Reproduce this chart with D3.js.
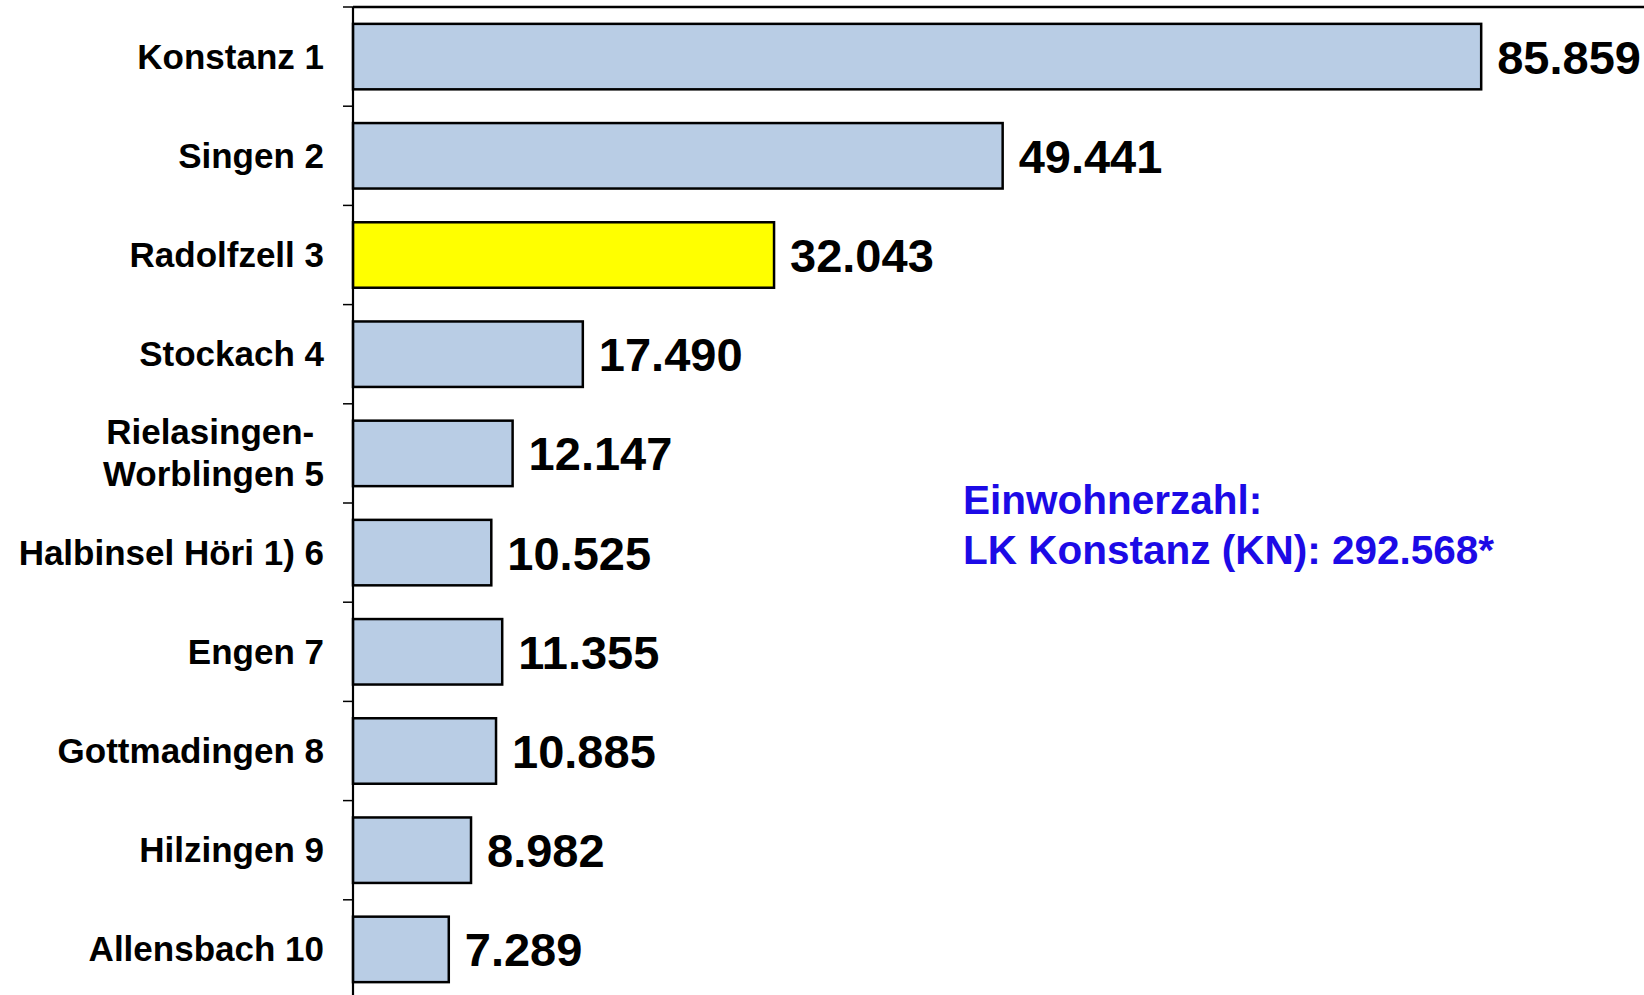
<!DOCTYPE html>
<html>
<head>
<meta charset="utf-8">
<script src="https://cdn.jsdelivr.net/npm/d3@7"></script>
<style>
  html, body { margin: 0; padding: 0; background: #ffffff; }
  svg { display: block; }
  text { font-family: "Liberation Sans", Arial, Helvetica, sans-serif; font-weight: bold; }
</style>
</head>
<body>
<script>
// Einwohner je Gemeinde im Landkreis Konstanz
const categories = [
  "Konstanz 1", "Singen 2", "Radolfzell 3", "Stockach 4",
  "Rielasingen-Worblingen 5", "Halbinsel Höri 1) 6", "Engen 7",
  "Gottmadingen 8", "Hilzingen 9", "Allensbach 10"
];
// Zeilen der Achsenbeschriftung (Rielasingen-Worblingen zweizeilig)
const categoryLines = [
  ["Konstanz 1"], ["Singen 2"], ["Radolfzell 3"], ["Stockach 4"],
  ["Rielasingen- ", "Worblingen 5"], ["Halbinsel Höri 1) 6"], ["Engen 7"],
  ["Gottmadingen 8"], ["Hilzingen 9"], ["Allensbach 10"]
];
const values = [85859, 49441, 32043, 17490, 12147, 10525, 11355, 10885, 8982, 7289];
const highlighted = ["Radolfzell 3"];
const noteLines = ["Einwohnerzahl:", "LK Konstanz (KN): 292.568*"];

const W = 1644, H = 995;
const plot = { left: 353, top: 7, bottom: 999 };

const de = d3.formatLocale({ decimal: ",", thousands: ".", grouping: [3], currency: ["", " €"] });
const fmt = de.format(",d");

const svg = d3.select("body").append("svg")
  .attr("width", W).attr("height", H)
  .attr("viewBox", `0 0 ${W} ${H}`);

const x = d3.scaleLinear().domain([0, 100000]).range([plot.left, plot.left + 1314]);
const y = d3.scaleBand().domain(categories)
  .range([plot.top, plot.bottom])
  .paddingInner(0.34).paddingOuter(0.17);

// obere Rahmenlinie der Zeichenfläche
svg.append("line")
  .attr("x1", plot.left).attr("x2", W)
  .attr("y1", plot.top).attr("y2", plot.top)
  .attr("stroke", "#000").attr("stroke-width", 2.5);

// Balken
svg.append("g").selectAll("rect")
  .data(categories)
  .join("rect")
  .attr("x", x(0))
  .attr("y", d => y(d))
  .attr("width", (d, i) => x(values[i]) - x(0))
  .attr("height", y.bandwidth())
  .attr("fill", d => highlighted.includes(d) ? "#ffff00" : "#b9cde5")
  .attr("stroke", "#000")
  .attr("stroke-width", 2.5);

// Kategorienachse mit Teilstrichen zwischen den Kategorien
const axis = svg.append("g");
const step = y.step();
const boundaries = categories.map(c => y(c) - y.paddingOuter() * step);
axis.selectAll("line.tick")
  .data(boundaries)
  .join("line")
  .attr("class", "tick")
  .attr("x1", plot.left - 10).attr("x2", plot.left)
  .attr("y1", d => d).attr("y2", d => d)
  .attr("stroke", "#000").attr("stroke-width", 1.5);
axis.append("line")
  .attr("x1", plot.left).attr("x2", plot.left)
  .attr("y1", plot.top).attr("y2", plot.bottom)
  .attr("stroke", "#000").attr("stroke-width", 2.2);

// Kategorienbeschriftung
const lineGap = 42;
const labels = svg.append("g").selectAll("text")
  .data(categories)
  .join("text")
  .attr("text-anchor", "end")
  .attr("font-size", 35)
  .attr("fill", "#000")
  .style("white-space", "pre");
labels.each(function (d, i) {
  const lines = categoryLines[i];
  const cy = y(d) + y.bandwidth() / 2;
  const first = cy + 12 - (lines.length - 1) * lineGap / 2;
  d3.select(this).selectAll("tspan")
    .data(lines)
    .join("tspan")
    .attr("x", 324)
    .attr("y", (l, j) => first + j * lineGap)
    .text(l => l);
});

// Wertebeschriftung
svg.append("g").selectAll("text")
  .data(categories)
  .join("text")
  .attr("x", (d, i) => x(values[i]) + 16)
  .attr("y", d => y(d) + y.bandwidth() / 2 + 17)
  .attr("font-size", 47)
  .attr("fill", "#000")
  .text((d, i) => fmt(values[i]));

// Hinweis zur Gesamteinwohnerzahl
svg.append("text")
  .attr("font-size", 40.5)
  .attr("fill", "#1c0ae6")
  .selectAll("tspan")
  .data(noteLines)
  .join("tspan")
  .attr("x", 963)
  .attr("y", (d, i) => 514 + i * 50)
  .text(d => d);
</script>
</body>
</html>
